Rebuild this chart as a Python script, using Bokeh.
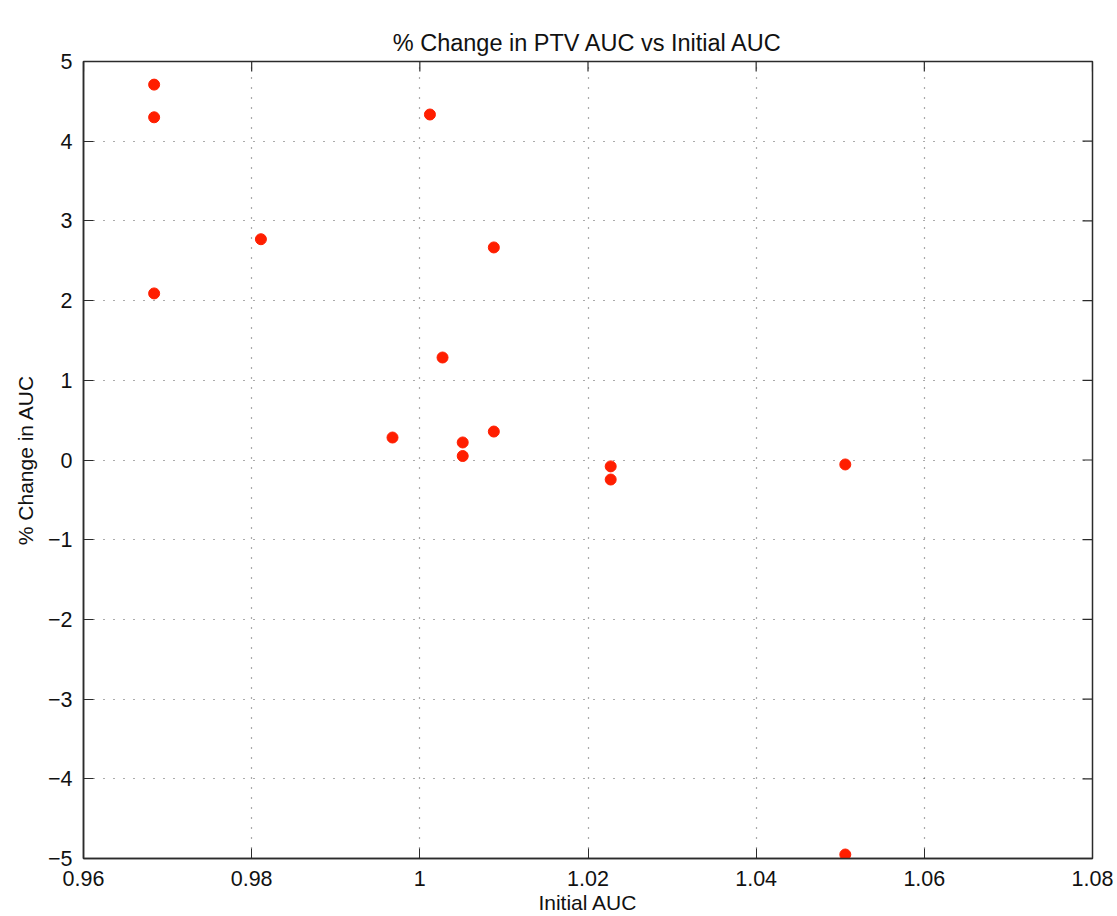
import math
from bokeh.plotting import figure
from bokeh.models import FixedTicker, Range1d
from bokeh.embed import file_html
from bokeh.resources import INLINE

# ---- data ----
initial_auc = [0.9684, 0.9684, 0.9684, 0.9811, 1.0012, 1.0088, 1.0027,
               0.99675, 1.0051, 1.0051, 1.0088, 1.0227, 1.0227, 1.0506, 1.0506]
pct_change = [4.71, 4.30, 2.09, 2.77, 4.335, 2.667, 1.286,
              0.282, 0.22, 0.05, 0.357, -0.08, -0.245, -0.056, -4.95]

x_ticks = [0.96, 0.98, 1.00, 1.02, 1.04, 1.06, 1.08]
x_tick_labels = ["0.96", "0.98", "1", "1.02", "1.04", "1.06", "1.08"]
y_ticks = [-5, -4, -3, -2, -1, 0, 1, 2, 3, 4, 5]
y_tick_labels = ["\u22125", "\u22124", "\u22123", "\u22122", "\u22121", "0", "1", "2", "3", "4", "5"]

title_text = "% Change in PTV AUC vs Initial AUC"
x_label = "Initial AUC"
y_label = "% Change in AUC"

FONT = "Liberation Sans"
AX = "#2b2b2b"
TXT = "#111111"

x_lo, x_hi = x_ticks[0], x_ticks[-1]
y_lo, y_hi = y_ticks[0], y_ticks[-1]

p = figure(width=1117, height=916, output_backend="svg", toolbar_location=None,
           x_range=Range1d(x_lo, x_hi), y_range=Range1d(y_lo, y_hi),
           x_axis_label=x_label, y_axis_label=y_label, title=title_text,
           min_border_left=83, min_border_right=25, min_border_top=61, min_border_bottom=58)

p.title.align = "center"
p.title.text_font = FONT
p.title.text_font_size = "23.5px"
p.title.text_font_style = "normal"
p.title.text_color = TXT
p.title.standoff = 12

p.background_fill_color = "white"
p.border_fill_color = "white"
p.outline_line_color = AX
p.outline_line_width = 1.5

for ax, ticks, labels in ((p.xaxis[0], x_ticks, x_tick_labels), (p.yaxis[0], y_ticks, y_tick_labels)):
    ax.ticker = FixedTicker(ticks=ticks)
    ax.major_label_overrides = {t: l for t, l in zip(ticks, labels)}
    ax.minor_tick_line_color = None
    ax.major_tick_in = 10
    ax.major_tick_out = 0
    ax.major_tick_line_color = AX
    ax.axis_line_color = AX
    ax.axis_line_width = 1.5
    ax.major_label_text_font = FONT
    ax.major_label_text_font_size = "21.5px"
    ax.major_label_text_color = TXT
    ax.axis_label_text_font = FONT
    ax.axis_label_text_font_size = "21px"
    ax.axis_label_text_font_style = "normal"
    ax.axis_label_text_color = TXT

p.xaxis[0].major_label_standoff = 12
p.xaxis[0].axis_label_standoff = 2
p.yaxis[0].major_label_standoff = 11
p.yaxis[0].axis_label_standoff = 8

# mirrored inward ticks on the top and right edges of the box
p.ray(x=x_ticks, y=[y_hi] * len(x_ticks), length=10, length_units="screen",
      angle=-math.pi / 2, line_color=AX, line_width=1.2)
p.ray(x=[x_hi] * len(y_ticks), y=y_ticks, length=10, length_units="screen",
      angle=math.pi, line_color=AX, line_width=1.2)

for g, ticks in ((p.xgrid[0], x_ticks), (p.ygrid[0], y_ticks)):
    g.ticker = FixedTicker(ticks=ticks)
    g.grid_line_color = "#3a3a3a"
    g.grid_line_dash = "1 9"
    g.grid_line_width = 1.2
    g.grid_line_alpha = 0.85

p.scatter(initial_auc, pct_change, size=11, marker="circle",
          fill_color="#ff1e00", line_color="#ff1e00")

open("out.html", "w").write(file_html(p, INLINE))
